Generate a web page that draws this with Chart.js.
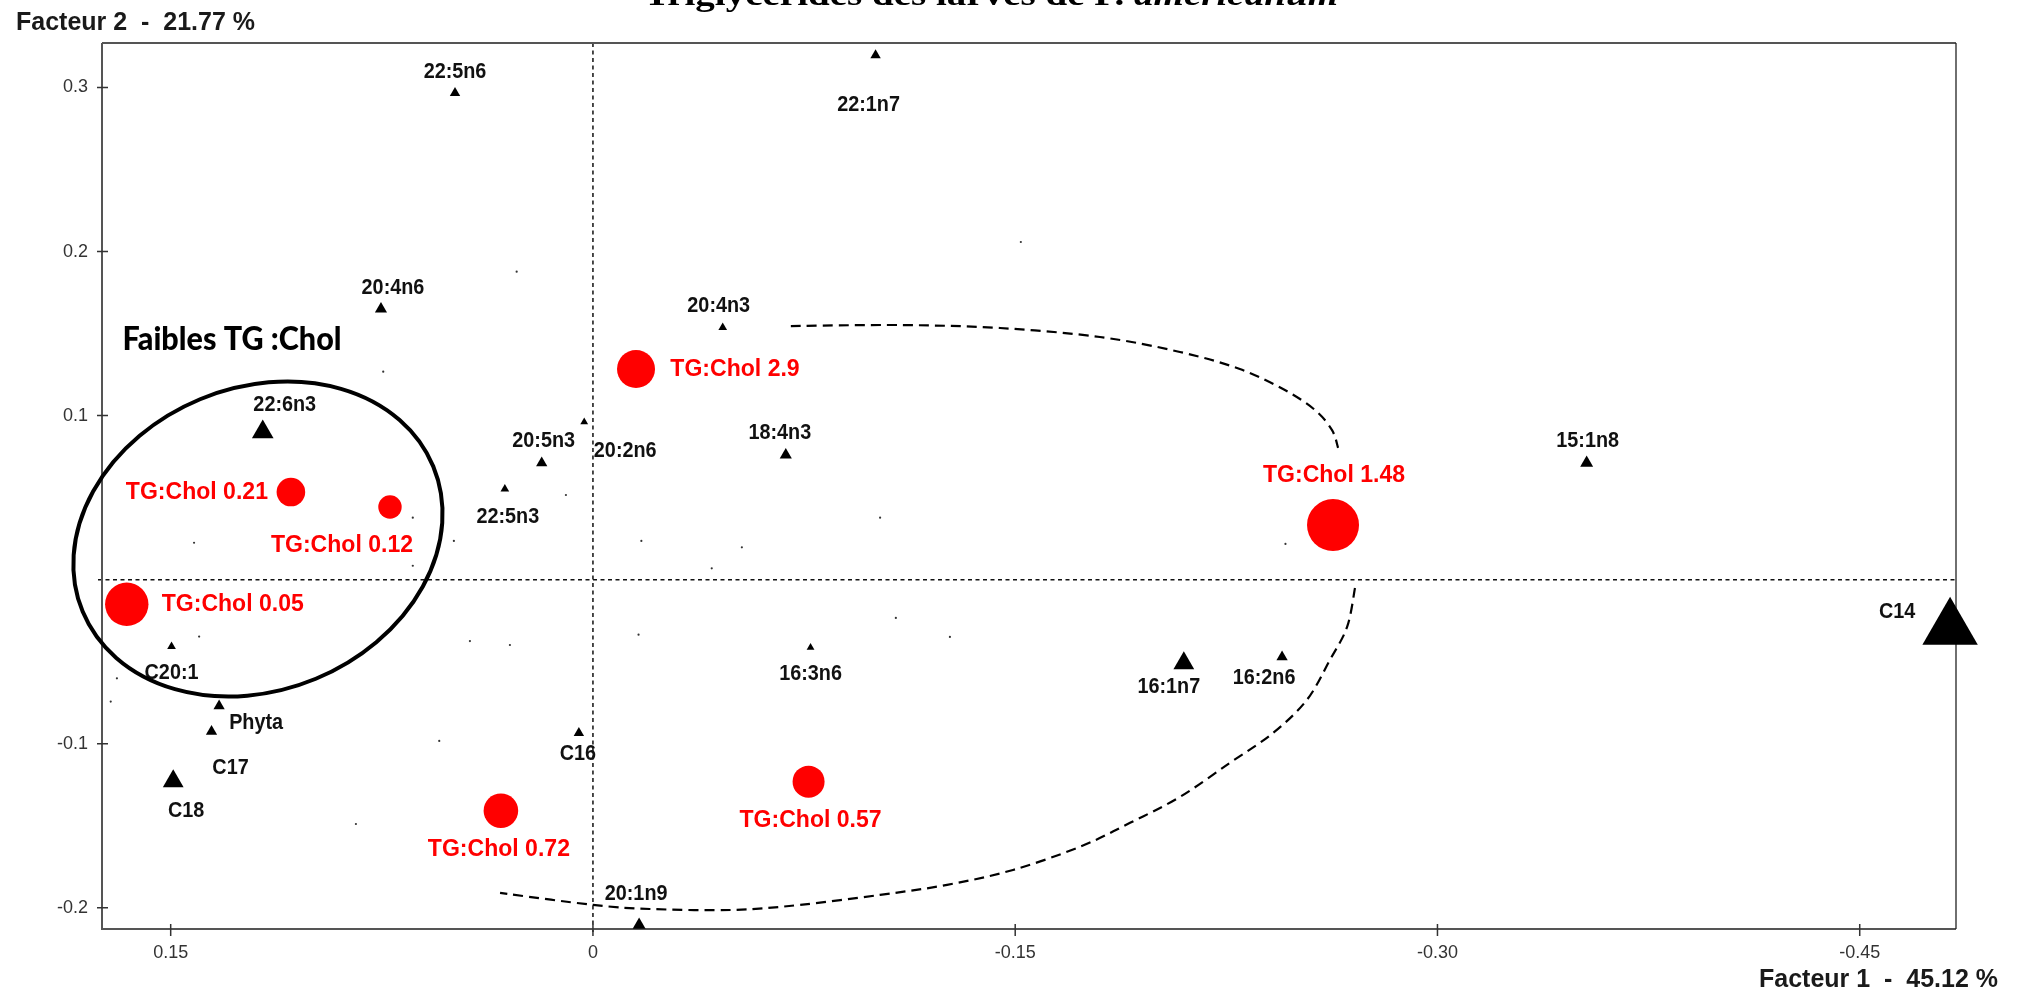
<!DOCTYPE html>
<html>
<head>
<meta charset="utf-8">
<title>Triglycérides des larves - ACP</title>
<script src="https://cdn.jsdelivr.net/npm/chart.js@4.4.1/dist/chart.umd.min.js"></script>
<style>
  html, body { margin: 0; padding: 0; background: #fff; }
  #wrap { width: 2027px; height: 995px; }
</style>
</head>
<body>
<div id="wrap"><canvas id="acpChart"></canvas></div>
<script>
// Axis ticks and titles
const xTickValues = [0.15, 0, -0.15, -0.3, -0.45];
const xTickLabels = ["0.15", "0", "-0.15", "-0.30", "-0.45"];
const yTickValues = [0.3, 0.2, 0.1, -0.1, -0.2];
const yTickLabels = ["0.3", "0.2", "0.1", "-0.1", "-0.2"];
const xTitle = "Facteur 1  -  45.12 %";
const yTitle = "Facteur 2  -  21.77 %";
const titleMain = "Triglycérides des larves de P. ";
const titleItalic = "americanum";

// Fatty acids (black triangles)
const acidNames = ["22:5n6", "22:1n7", "20:4n6", "22:6n3", "20:5n3", "22:5n3", "20:2n6", "20:4n3", "18:4n3", "15:1n8",
  "C14", "16:2n6", "16:1n7", "16:3n6", "C16", "20:1n9", "C20:1", "Phyta", "C17", "C18"];
const acidF1 = [0.049, -0.1004, 0.0753, 0.1173, 0.0182, 0.0313, 0.0031, -0.0461, -0.0685, -0.353,
  -0.4821, -0.2448, -0.2099, -0.0773, 0.005, -0.0164, 0.1497, 0.1328, 0.1355, 0.1491];
const acidF2 = [0.2966, 0.3197, 0.165, 0.09, 0.0711, 0.0553, 0.0961, 0.1537, 0.076, 0.0711,
  -0.0299, -0.0471, -0.0509, -0.0413, -0.0934, -0.2104, -0.0407, -0.077, -0.0925, -0.1229];

// TG:Chol ratios (red circles)
const ratioNames = ["TG:Chol 2.9", "TG:Chol 0.21", "TG:Chol 0.12", "TG:Chol 0.05", "TG:Chol 1.48", "TG:Chol 0.72", "TG:Chol 0.57"];
const ratioF1 = [-0.0153, 0.1073, 0.0721, 0.1656, -0.2629, 0.0327, -0.0766];
const ratioF2 = [0.1284, 0.0534, 0.0443, -0.015, 0.0333, -0.1408, -0.1231];

// unlabelled minor variables (tiny dots)
const minorF1 = [0.0745, 0.1417, 0.064, 0.0494, 0.064, 0.1399, 0.0437, 0.0295, 0.1691, 0.1713, 0.0271, 0.0096,
  -0.0172, -0.0529, -0.102, -0.0422, -0.246, 0.0546, -0.152, -0.0162, -0.1076, -0.1268, 0.0842];
const minorF2 = [0.1268, 0.0225, 0.0378, 0.0236, 0.0085, -0.0347, -0.0374, -0.0398, -0.0601, -0.0743, 0.1877, 0.0516,
  0.0236, 0.0197, 0.0378, 0.0069, 0.0218, -0.0983, 0.2058, -0.0335, -0.0233, -0.0349, -0.1489];

// group outlines (in factor units)
const lowGroup = { f1: 0.119, f2: 0.0248, r1: 0.0674, r2: 0.0922, tiltDeg: -22.5 };
const lowGroupCaption = { text: "Faibles TG :Chol", f1: 0.1671, f2: 0.1465 };
const highGroupTop = [[-0.0703, 0.1546], [-0.1091, 0.1552], [-0.1446, 0.1534], [-0.1801, 0.1479], [-0.2085, 0.1388],
  [-0.2298, 0.1284], [-0.2458, 0.1156], [-0.2565, 0.1034], [-0.2625, 0.0913], [-0.2647, 0.0803]];
const highGroupBottom = [[-0.2707, -0.0051], [-0.2679, -0.0288], [-0.2618, -0.0489], [-0.2536, -0.0733], [-0.2416, -0.0934],
  [-0.2263, -0.1116], [-0.2085, -0.1324], [-0.1908, -0.1482], [-0.173, -0.1628], [-0.1492, -0.1769], [-0.1258, -0.186],
  [-0.102, -0.1921], [-0.0735, -0.1982], [-0.0497, -0.2013], [-0.0202, -0.2007], [0, -0.1982], [0.033, -0.1909]];

// marker sizes and label shifts (px)
const acidRadius = [6, 6, 7, 12.5, 6.5, 5, 4.5, 5, 7, 7.5, 32, 6.5, 12, 4.5, 6, 7.5, 5, 6.5, 6.5, 12];
const acidLabelShift = [[0, -21], [-7, 50], [12, -21], [22, -27], [2, -22], [3, 28], [41, 29], [-4, -22], [-6, -22], [1, -22],
  [-53, -17], [-18, 21], [-15, 24], [0, 26], [-1, 21], [-3, -31], [0, 26], [37, 17], [19, 36], [13, 30]];
const ratioRadius = [19, 14.3, 11.7, 21.7, 26, 17.3, 16];
const ratioLabelShift = [[99, 0], [-94, 0], [-48, 38], [106, 0], [1, -50], [-2, 39], [2, 39]];

const SANS = '"Liberation Sans", Arial, sans-serif';
const RED = "#ff0000";

function toPoints(xs, ys) {
  return xs.map((v, i) => ({ x: v, y: ys[i] }));
}

function drawText(ctx, text, x, y, font, color, align, squeeze) {
  ctx.save();
  ctx.font = font;
  ctx.fillStyle = color;
  ctx.textAlign = align || "center";
  ctx.textBaseline = "middle";
  ctx.translate(x, y);
  ctx.scale(squeeze || 1, 1);
  ctx.fillText(text, 0, 0);
  ctx.restore();
}

function smoothPath(ctx, pts) {
  ctx.moveTo(pts[0].x, pts[0].y);
  for (let i = 0; i < pts.length - 1; i++) {
    const p0 = pts[i - 1] || pts[i], p1 = pts[i], p2 = pts[i + 1], p3 = pts[i + 2] || p2;
    ctx.bezierCurveTo(p1.x + (p2.x - p0.x) / 6, p1.y + (p2.y - p0.y) / 6,
      p2.x - (p3.x - p1.x) / 6, p2.y - (p3.y - p1.y) / 6, p2.x, p2.y);
  }
}

// frame, zero lines and crossing tick marks
const framePlugin = {
  id: "frame",
  beforeDatasetsDraw(chart) {
    const { ctx, chartArea: a, scales: { x, y } } = chart;
    ctx.save();
    ctx.strokeStyle = "#111";
    ctx.lineWidth = 1.5;
    ctx.setLineDash([4, 3.5]);
    const x0 = x.getPixelForValue(0), y0 = y.getPixelForValue(0);
    ctx.beginPath();
    ctx.moveTo(x0, a.top); ctx.lineTo(x0, a.bottom + 6);
    ctx.moveTo(a.left - 4, y0); ctx.lineTo(a.right, y0);
    ctx.stroke();
    ctx.setLineDash([]);

    ctx.strokeStyle = "#555";
    ctx.lineWidth = 2;
    ctx.beginPath();
    ctx.moveTo(a.left, a.top); ctx.lineTo(a.right, a.top);
    ctx.moveTo(a.left, a.top); ctx.lineTo(a.left, a.bottom); ctx.lineTo(a.right, a.bottom);
    ctx.stroke();
    ctx.strokeStyle = "#222";
    ctx.lineWidth = 1.3;
    ctx.beginPath();
    ctx.moveTo(a.right, a.top); ctx.lineTo(a.right, a.bottom);
    ctx.stroke();

    ctx.strokeStyle = "#333";
    ctx.lineWidth = 1.5;
    ctx.beginPath();
    xTickValues.forEach(v => {
      const px = x.getPixelForValue(v);
      ctx.moveTo(px, a.bottom - 5); ctx.lineTo(px, a.bottom + 7);
    });
    yTickValues.forEach(v => {
      const py = y.getPixelForValue(v);
      ctx.moveTo(a.left - 5, py); ctx.lineTo(a.left + 6, py);
    });
    ctx.stroke();
    ctx.restore();
  }
};

// point labels and group outlines
const notesPlugin = {
  id: "notes",
  afterDatasetsDraw(chart) {
    const { ctx, scales: { x, y } } = chart;
    acidNames.forEach((name, i) => {
      const px = x.getPixelForValue(acidF1[i]) + acidLabelShift[i][0];
      const py = y.getPixelForValue(acidF2[i]) + acidLabelShift[i][1];
      drawText(ctx, name, px, py, "bold 22px " + SANS, "#111", "center", 0.9);
    });
    ratioNames.forEach((name, i) => {
      const px = x.getPixelForValue(ratioF1[i]) + ratioLabelShift[i][0];
      const py = y.getPixelForValue(ratioF2[i]) + ratioLabelShift[i][1];
      drawText(ctx, name, px, py, "bold 24px " + SANS, RED, "center", 0.96);
    });

    ctx.save();
    ctx.strokeStyle = "#000";
    // low TG:Chol ellipse
    const cx = x.getPixelForValue(lowGroup.f1), cy = y.getPixelForValue(lowGroup.f2);
    const rx = Math.abs(x.getPixelForValue(lowGroup.f1 + lowGroup.r1) - cx);
    const ry = Math.abs(y.getPixelForValue(lowGroup.f2 + lowGroup.r2) - cy);
    ctx.lineWidth = 4;
    ctx.beginPath();
    ctx.ellipse(cx, cy, rx, ry, lowGroup.tiltDeg * Math.PI / 180, 0, Math.PI * 2);
    ctx.stroke();
    // high TG:Chol dashed outline
    ctx.lineWidth = 2.2;
    ctx.setLineDash([10, 6]);
    [highGroupTop, highGroupBottom].forEach(seg => {
      const pts = seg.map(p => ({ x: x.getPixelForValue(p[0]), y: y.getPixelForValue(p[1]) }));
      ctx.beginPath();
      smoothPath(ctx, pts);
      ctx.stroke();
    });
    ctx.restore();

    // caption of the low group, squeezed to the reference width
    ctx.save();
    const capFont = '900 33px Lato, "Open Sans", sans-serif';
    ctx.font = capFont;
    const capW = ctx.measureText(lowGroupCaption.text).width;
    ctx.restore();
    drawText(ctx, lowGroupCaption.text, x.getPixelForValue(lowGroupCaption.f1), y.getPixelForValue(lowGroupCaption.f2),
      capFont, "#000", "left", 219 / capW);
  },
  afterDraw(chart) {
    const { ctx } = chart;
    drawText(ctx, yTitle, 16, 23, "bold 25px " + SANS, "#1a1a1a", "left", 1);
    drawText(ctx, xTitle, 1998, 980, "bold 25px " + SANS, "#1a1a1a", "right", 1);

    // title, cut by the top edge as in the source figure
    ctx.save();
    const fMain = 'bold 32px "Liberation Serif", "DejaVu Serif", serif';
    const fItal = 'italic bold 32px "Liberation Serif", "DejaVu Serif", serif';
    ctx.font = fMain;
    const w1 = ctx.measureText(titleMain).width;
    ctx.font = fItal;
    const w2 = ctx.measureText(titleItalic).width;
    const k = 694 / (w1 + w2);
    ctx.translate(991 - 347, 5);
    ctx.scale(k, 1);
    ctx.fillStyle = "#000";
    ctx.textBaseline = "alphabetic";
    ctx.textAlign = "left";
    ctx.font = fMain;
    ctx.fillText(titleMain, 0, 0);
    ctx.font = fItal;
    ctx.fillText(titleItalic, w1, 0);
    ctx.restore();
  }
};

new Chart(document.getElementById("acpChart").getContext("2d"), {
  type: "scatter",
  data: {
    datasets: [
      {
        label: "TG:Chol",
        data: toPoints(ratioF1, ratioF2),
        pointStyle: "circle",
        pointRadius: ratioRadius,
        backgroundColor: RED,
        borderWidth: 0,
        clip: false,
      },
      {
        label: "Acides gras",
        data: toPoints(acidF1, acidF2),
        pointStyle: "triangle",
        pointRadius: acidRadius,
        backgroundColor: "#000",
        borderWidth: 0,
        clip: false,
      },
      {
        label: "Autres",
        data: toPoints(minorF1, minorF2),
        pointStyle: "circle",
        pointRadius: 1.1,
        backgroundColor: "#333",
        borderWidth: 0,
      },
    ],
  },
  options: {
    animation: false,
    responsive: true,
    maintainAspectRatio: false,
    devicePixelRatio: 1,
    layout: { padding: { left: 0, right: 71, top: 43, bottom: 0 } },
    plugins: {
      legend: { display: false },
      tooltip: { enabled: false },
    },
    scales: {
      x: {
        type: "linear",
        position: "bottom",
        reverse: true,
        min: -0.4842,
        max: 0.1744,
        afterBuildTicks: function (scale) {
          scale.ticks = xTickValues.map(v => ({ value: v }));
        },
        afterFit: function (scale) {
          scale.height = 66;
        },
        grid: { display: false, drawTicks: false },
        border: { display: false },
        ticks: {
          autoSkip: false,
          maxRotation: 0,
          padding: 13,
          color: "#333",
          font: { family: SANS, size: 18 },
          callback: function (value) {
            return xTickLabels[xTickValues.indexOf(value)];
          },
        },
      },
      y: {
        type: "linear",
        min: -0.2129,
        max: 0.3271,
        afterBuildTicks: function (scale) {
          scale.ticks = yTickValues.map(v => ({ value: v }));
        },
        afterFit: function (scale) {
          scale.width = 102;
        },
        grid: { display: false, drawTicks: false },
        border: { display: false },
        ticks: {
          autoSkip: false,
          padding: 14,
          color: "#333",
          font: { family: SANS, size: 18 },
          callback: function (value) {
            return yTickLabels[yTickValues.indexOf(value)];
          },
        },
      },
    },
  },
  plugins: [framePlugin, notesPlugin],
});
</script>
</body>
</html>
